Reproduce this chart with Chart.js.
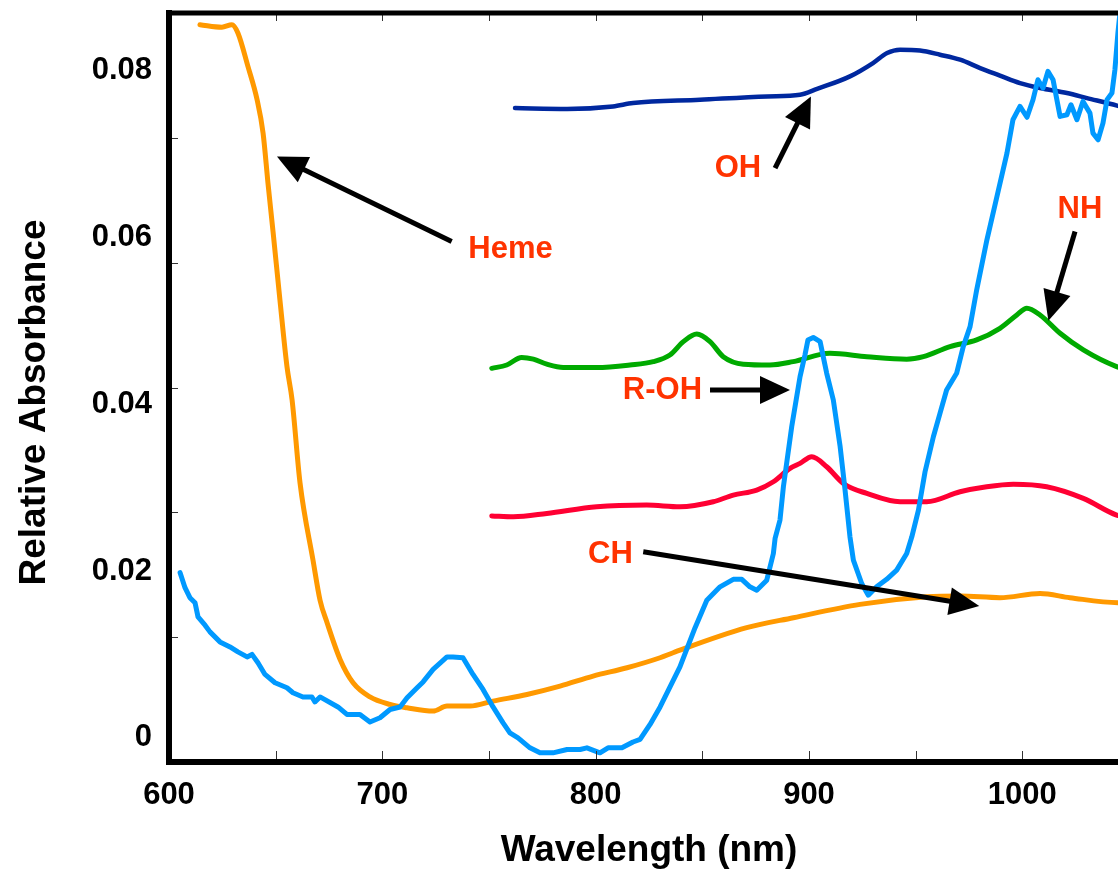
<!DOCTYPE html>
<html>
<head>
<meta charset="utf-8">
<title>Relative Absorbance</title>
<script src="https://cdn.jsdelivr.net/npm/chart.js@4.4.1/dist/chart.umd.min.js"></script>
<style>
  html, body { margin: 0; padding: 0; background: #fff; overflow: hidden; }
  #wrap { position: relative; width: 1135px; height: 874px; }
</style>
</head>
<body>
<div id="wrap"><canvas id="spectraChart"></canvas></div>
<script>
// Orange trace: heme band falling into the CH overtone region
var hemeNm = [614.5, 624.8, 629.5, 632.3, 637.0, 641.3, 644.1, 646.4, 648.8, 652.0,
  655.3, 657.7, 661.4, 667.5, 670.8, 674.1, 680.2, 686.3, 694.2, 703.6,
  711.6, 723.8, 730.3, 741.1, 751.9, 767.8, 783.3, 798.8, 814.7, 830.2,
  836.3, 870.8, 892.7, 923.9, 955.2, 970.8, 989.5, 1008.3, 1022.3, 1044.8, 1050];
var hemeAbs = [0.0855, 0.0852, 0.0855, 0.0845, 0.0805, 0.0765, 0.0725, 0.0665, 0.0606, 0.0525,
  0.0445, 0.0405, 0.0306, 0.0213, 0.0165, 0.0138, 0.0094, 0.0066, 0.0049, 0.0040,
  0.0036, 0.0032, 0.0038, 0.0038, 0.0044, 0.0052, 0.0062, 0.0074, 0.0084, 0.0096,
  0.0102, 0.0132, 0.0144, 0.0160, 0.0169, 0.0170, 0.0168, 0.0173, 0.0168, 0.0162, 0.0162];

// Light blue trace (noisy, full range)
var waterNm = [605.2, 607.5, 609.8, 612.2, 613.6, 616.9, 619.2, 623.9, 628.6, 632.3,
  636.6, 638.9, 641.7, 645.0, 649.7, 655.3, 658.1, 662.8, 667.0, 668.4,
  670.8, 679.2, 683.4, 689.5, 694.2, 698.9, 703.6, 708.3, 711.6, 716.3,
  719.1, 723.8, 730.3, 733.1, 737.8, 742.5, 747.2, 751.9, 756.6, 759.8,
  763.6, 769.2, 773.9, 780.0, 786.6, 792.7, 795.9, 802.0, 805.8, 812.3,
  817.5, 820.8, 825.5, 830.2, 839.5, 846.6, 852.1, 858.3, 864.5, 868.5,
  872.3, 875.5, 880.2, 883.3, 884.1, 886.4, 888.0, 891.9, 895.8, 898.1,
  899.5, 902.0, 905.2, 908.3, 911.4, 914.6, 916.9, 919.2, 920.8, 924.7,
  927.8, 931.7, 936.4, 941.1, 945.8, 948.2, 951.3, 954.4, 958.3, 961.4,
  964.5, 969.2, 972.3, 975.5, 978.6, 983.4, 988.1, 992.8, 995.6, 998.9,
  1002.2, 1005.0, 1007.3, 1009.7, 1012.0, 1014.4, 1017.7, 1020.9, 1022.8, 1025.6,
  1028.4, 1031.7, 1033.1, 1035.5, 1037.8, 1039.7, 1042.0, 1043.4, 1044.8, 1046.2];
var waterAbs = [0.0198, 0.0180, 0.0168, 0.0162, 0.0145, 0.0135, 0.0127, 0.0115, 0.0109, 0.0103,
  0.0097, 0.0100, 0.0090, 0.0076, 0.0066, 0.0060, 0.0054, 0.0049, 0.0049, 0.0043,
  0.0049, 0.0037, 0.0028, 0.0028, 0.0019, 0.0024, 0.0034, 0.0037, 0.0048, 0.0060,
  0.0067, 0.0082, 0.0097, 0.0097, 0.0096, 0.0076, 0.0058, 0.0037, 0.0018, 0.0006,
  0.0000, -0.0012, -0.0018, -0.0018, -0.0014, -0.0014, -0.0012, -0.0018, -0.0012, -0.0012,
  -0.0005, -0.0002, 0.0016, 0.0037, 0.0085, 0.0132, 0.0165, 0.0181, 0.0190, 0.0190,
  0.0181, 0.0177, 0.0189, 0.0221, 0.0239, 0.0261, 0.0301, 0.0373, 0.0433, 0.0459,
  0.0477, 0.0480, 0.0475, 0.0437, 0.0405, 0.0349, 0.0297, 0.0241, 0.0213, 0.0185,
  0.0171, 0.0181, 0.0190, 0.0201, 0.0221, 0.0241, 0.0273, 0.0319, 0.0361, 0.0389,
  0.0417, 0.0437, 0.0469, 0.0493, 0.0537, 0.0597, 0.0649, 0.0701, 0.0741, 0.0757,
  0.0744, 0.0765, 0.0789, 0.0779, 0.0799, 0.0789, 0.0745, 0.0747, 0.0759, 0.0741,
  0.0763, 0.0749, 0.0725, 0.0717, 0.0737, 0.0765, 0.0773, 0.0801, 0.0845, 0.0880];

// Dark blue trace (OH band)
var ohNm = [762.2, 786.6, 808.1, 817.5, 848.9, 880.3, 895.8, 903.8, 919.2, 930.0,
  936.6, 942.7, 952.0, 961.4, 970.8, 980.2, 989.5, 998.9, 1008.3, 1020.9,
  1030.3, 1044.4, 1050];
var ohAbs = [0.0755, 0.0754, 0.0757, 0.0761, 0.0765, 0.0769, 0.0771, 0.0778, 0.0793, 0.0809,
  0.0821, 0.0825, 0.0824, 0.0819, 0.0813, 0.0803, 0.0794, 0.0785, 0.0779, 0.0773,
  0.0767, 0.0758, 0.0754];

// Green trace (NH band)
var nhNm = [751.3, 758.3, 765.3, 770.8, 777.1, 784.8, 800.5, 816.1, 827.0, 834.8,
  841.1, 847.4, 853.6, 859.8, 869.2, 881.7, 892.6, 909.8, 927.1, 945.8,
  953.6, 966.1, 978.6, 989.5, 997.4, 1002.1, 1008.3, 1017.7, 1028.6, 1044.2, 1050];
var nhAbs = [0.0443, 0.0447, 0.0456, 0.0454, 0.0448, 0.0444, 0.0444, 0.0447, 0.0451, 0.0459,
  0.0475, 0.0484, 0.0475, 0.0457, 0.0448, 0.0447, 0.0451, 0.0461, 0.0457, 0.0454,
  0.0457, 0.0469, 0.0477, 0.0491, 0.0507, 0.0515, 0.0507, 0.0485, 0.0465, 0.0445, 0.0441];

// Red trace
var lipidNm = [751.3, 761.4, 777.1, 800.5, 823.9, 839.5, 855.1, 864.5, 875.5, 883.3,
  891.1, 895.8, 901.3, 908.3, 916.1, 927.1, 942.7, 955.2, 970.8, 983.3,
  995.8, 1011.4, 1028.6, 1044.2, 1050];
var lipidAbs = [0.0266, 0.0265, 0.0269, 0.0277, 0.0279, 0.0277, 0.0283, 0.0291, 0.0297, 0.0307,
  0.0323, 0.0329, 0.0337, 0.0325, 0.0305, 0.0293, 0.0283, 0.0283, 0.0295, 0.0301,
  0.0304, 0.0301, 0.0287, 0.0267, 0.0264];

// axis ranges and labelled ticks
var xMin = 600, xMax = 1050;
var yMin = -0.0029, yMax = 0.0869;
var xTickValues = [600, 700, 800, 900, 1000];
var yTickValues = [0, 0.02, 0.04, 0.06, 0.08];
var xMinorTicks = [650, 700, 750, 800, 850, 900, 950, 1000];
var yMinorDivisions = 6;

// band labels with arrows, in (nm, absorbance)
var bandNotes = [
  { text: 'Heme', at: [760.1, 0.0586], from: [732.5, 0.0595], to: [650.6, 0.0697] },
  { text: 'OH',   at: [866.7, 0.0683], from: [884.1, 0.0683], to: [900.9, 0.0769] },
  { text: 'NH',   at: [1027.0, 0.0634], from: [1024.7, 0.0607], to: [1012.2, 0.0500] },
  { text: 'R-OH', at: [831.3, 0.0417], from: [853.6, 0.0417], to: [891.1, 0.0417] },
  { text: 'CH',   at: [806.9, 0.0220], from: [822.3, 0.0223], to: [979.8, 0.0158] }
];

function pairUp(xs, ys) {
  return xs.map(function (x, i) { return { x: x, y: ys[i] }; });
}

function drawArrow(ctx, from, to) {
  var dx = to[0] - from[0], dy = to[1] - from[1];
  var len = Math.hypot(dx, dy), ux = dx / len, uy = dy / len;
  var head = 30, half = 14;
  var bx = to[0] - ux * head, by = to[1] - uy * head;
  ctx.beginPath();
  ctx.moveTo(from[0], from[1]);
  ctx.lineTo(bx + ux * 2, by + uy * 2);
  ctx.stroke();
  ctx.beginPath();
  ctx.moveTo(to[0], to[1]);
  ctx.lineTo(bx - uy * half, by + ux * half);
  ctx.lineTo(bx + uy * half, by - ux * half);
  ctx.closePath();
  ctx.fill();
}

// frame, inward tick marks, y title and the band arrows
var framePlugin = {
  id: 'framePlugin',
  afterDraw: function (chart) {
    var ctx = chart.ctx, a = chart.chartArea;
    var xs = chart.scales.x, ys = chart.scales.y;
    ctx.save();

    ctx.strokeStyle = '#333';
    ctx.lineWidth = 1;
    ctx.beginPath();
    xMinorTicks.forEach(function (v) {
      var px = Math.round(xs.getPixelForValue(v)) + 0.5;
      ctx.moveTo(px, a.bottom - 3);
      ctx.lineTo(px, a.bottom - 11);
      ctx.moveTo(px, a.top + 2);
      ctx.lineTo(px, a.top + 8);
    });
    for (var i = 1; i < yMinorDivisions; i++) {
      var v = ys.min + i * (ys.max - ys.min) / yMinorDivisions;
      var py = Math.round(ys.getPixelForValue(v)) + 0.5;
      ctx.moveTo(a.left + 3, py);
      ctx.lineTo(a.left + 9, py);
    }
    ctx.stroke();

    ctx.strokeStyle = '#000';
    ctx.lineCap = 'square';
    ctx.lineWidth = 6;
    ctx.beginPath();
    ctx.moveTo(a.left, a.top);
    ctx.lineTo(a.left, a.bottom);
    ctx.lineTo(a.right, a.bottom);
    ctx.stroke();
    ctx.lineWidth = 5;
    ctx.beginPath();
    ctx.moveTo(a.left, a.top);
    ctx.lineTo(a.right, a.top);
    ctx.lineTo(a.right, a.bottom);
    ctx.stroke();

    // y axis title
    ctx.save();
    ctx.translate(45, (a.top + a.bottom) / 2 + 15);
    ctx.rotate(-Math.PI / 2);
    ctx.fillStyle = '#000';
    ctx.font = 'bold 37px "Liberation Sans", Arial, sans-serif';
    ctx.textAlign = 'center';
    ctx.textBaseline = 'alphabetic';
    ctx.fillText('Relative Absorbance', 0, 0);
    ctx.restore();

    ctx.lineCap = 'butt';
    ctx.lineWidth = 5;
    ctx.strokeStyle = '#000';
    ctx.fillStyle = '#000';
    bandNotes.forEach(function (n) {
      var f = [xs.getPixelForValue(n.from[0]), ys.getPixelForValue(n.from[1])];
      var t = [xs.getPixelForValue(n.to[0]), ys.getPixelForValue(n.to[1])];
      drawArrow(ctx, f, t);
    });
    ctx.fillStyle = '#ff3300';
    ctx.font = 'bold 31px "Liberation Sans", Arial, sans-serif';
    ctx.textAlign = 'center';
    ctx.textBaseline = 'middle';
    bandNotes.forEach(function (n) {
      ctx.fillText(n.text, xs.getPixelForValue(n.at[0]), ys.getPixelForValue(n.at[1]));
    });
    ctx.restore();
  }
};

Chart.defaults.font.family = '"Liberation Sans", Arial, Helvetica, sans-serif';
Chart.defaults.font.weight = 'bold';
Chart.defaults.color = '#000';

var ctx = document.getElementById('spectraChart').getContext('2d');
var chart = new Chart(ctx, {
  type: 'line',
  data: {
    datasets: [
      { label: 'Water', data: pairUp(waterNm, waterAbs), borderColor: '#0099ff', borderWidth: 5, tension: 0 },
      { label: 'Heme', data: pairUp(hemeNm, hemeAbs), borderColor: '#ff9900', borderWidth: 5, cubicInterpolationMode: 'monotone' },
      { label: 'OH', data: pairUp(ohNm, ohAbs), borderColor: '#00289f', borderWidth: 4.5, cubicInterpolationMode: 'monotone' },
      { label: 'NH', data: pairUp(nhNm, nhAbs), borderColor: '#00aa00', borderWidth: 5, cubicInterpolationMode: 'monotone' },
      { label: 'Lipid', data: pairUp(lipidNm, lipidAbs), borderColor: '#ff0033', borderWidth: 5, cubicInterpolationMode: 'monotone' }
    ]
  },
  options: {
    responsive: true,
    maintainAspectRatio: false,
    animation: false,
    layout: { padding: { top: 13, right: 6, bottom: 0, left: 0 } },
    elements: {
      point: { radius: 0 },
      line: { borderJoinStyle: 'round', borderCapStyle: 'round' }
    },
    plugins: {
      legend: { display: false },
      tooltip: { enabled: false }
    },
    scales: {
      x: {
        type: 'linear',
        min: xMin,
        max: xMax,
        grid: { display: false, drawTicks: false },
        border: { display: false },
        ticks: {
          padding: 15,
          font: { size: 31, weight: 'bold' },
          callback: function (v) { return String(v); }
        },
        title: {
          display: true,
          text: 'Wavelength (nm)',
          font: { size: 37, weight: 'bold' },
          padding: { top: 0, bottom: 1 }
        },
        afterBuildTicks: function (s) {
          s.ticks = xTickValues.map(function (v) { return { value: v }; });
        },
        afterFit: function (s) {
          s.height = 112;
          s.paddingLeft = 0;
          s.paddingRight = 0;
        }
      },
      y: {
        type: 'linear',
        min: yMin,
        max: yMax,
        grid: { display: false, drawTicks: false },
        border: { display: false },
        ticks: {
          padding: 17,
          font: { size: 31, weight: 'bold' },
          callback: function (v) { return Math.abs(v) < 1e-9 ? '0' : v.toFixed(2); }
        },
        afterBuildTicks: function (s) {
          s.ticks = yTickValues.map(function (v) { return { value: v }; });
        },
        afterFit: function (s) {
          s.width = 169;
          s.paddingTop = 0;
          s.paddingBottom = 0;
        }
      }
    }
  },
  plugins: [framePlugin]
});
</script>
</body>
</html>
